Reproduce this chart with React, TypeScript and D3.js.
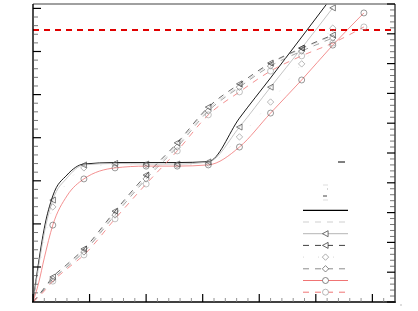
import React from "react";
import * as d3 from "d3";

// ---------- data ----------
const xValues = [0, 0.1, 0.2, 0.35, 0.6, 0.9, 1.45, 2.0, 2.55, 3.1, 3.65, 4.2, 4.75, 5.3, 5.85];
const markerX = [0.35, 0.9, 1.45, 2.0, 2.55, 3.1, 3.65, 4.2, 4.75, 5.3, 5.85];

// plateau family
const s1 = [0, 1.34, 2.48, 3.56, 4.26, 4.63, 4.68, 4.68, 4.68, 4.71, 6.17, 7.52, 8.89, 10.27, null];
const s3 = [0, 1.21, 2.32, 3.42, 4.16, 4.6, 4.65, 4.63, 4.63, 4.7, 5.87, 7.21, 8.52, 9.87, null];
const s5 = [0, 1.01, 2.08, 3.19, 3.99, 4.5, 4.61, 4.6, 4.6, 4.66, 5.54, 6.71, 7.99, 9.19, null];
const s7 = [0, 0.64, 1.48, 2.58, 3.56, 4.13, 4.5, 4.56, 4.56, 4.6, 5.2, 6.34, 7.45, 8.62, 9.7];
// linear family
const s2 = [0, 0.22, 0.44, 0.77, 1.2, 1.71, 2.99, 4.19, 5.27, 6.48, 7.25, 7.99, 8.49, 8.93, null];
const s4 = [0, 0.23, 0.47, 0.84, 1.26, 1.78, 3.05, 4.26, 5.34, 6.54, 7.32, 8.02, 8.52, 8.96, null];
const s6 = [0, 0.2, 0.42, 0.77, 1.17, 1.68, 2.92, 4.13, 5.2, 6.41, 7.21, 7.92, 8.42, 8.86, null];
const s8 = [0, 0.17, 0.37, 0.7, 1.11, 1.58, 2.79, 3.96, 5.07, 6.28, 7.05, 7.75, 8.26, 8.69, 9.23];

const refLevel = 9.13;

const xMajorTicks = [0, 1, 2, 3, 4, 5, 6];
const leftMajorTicks = [0, 1, 2, 3, 4, 5, 6];
const rightMajorTicks = [0, 1, 2, 3, 4, 5, 6, 7, 8, 9, 10];

// ---------- styles ----------
type Marker = "none" | "tri" | "dia" | "circ";
const series: {
  values: (number | null)[];
  color: string;
  width: number;
  dash: string;
  marker: Marker;
  markerColor: string;
}[] = [
  { values: s1, color: "#000000", width: 0.9, dash: "", marker: "none", markerColor: "#000" },
  { values: s2, color: "#cfcfcf", width: 0.8, dash: "6,6", marker: "none", markerColor: "#000" },
  { values: s3, color: "#b5b5b5", width: 0.8, dash: "", marker: "tri", markerColor: "#333" },
  { values: s4, color: "#404040", width: 0.8, dash: "6,6", marker: "tri", markerColor: "#222" },
  { values: s5, color: "#d8d8d8", width: 0.8, dash: "1,14", marker: "dia", markerColor: "#888" },
  { values: s6, color: "#8c8c8c", width: 0.8, dash: "6,6", marker: "dia", markerColor: "#555" },
  { values: s7, color: "#f07474", width: 0.8, dash: "", marker: "circ", markerColor: "#555" },
  { values: s8, color: "#f07474", width: 0.8, dash: "6,6", marker: "circ", markerColor: "#999" },
];

const L = 33, R = 395, T = 4, B = 302;

function markerPath(kind: Marker): string {
  if (kind === "tri") return "M-3,0L2.6,-3L2.6,3Z";
  if (kind === "dia") return "M0,-3.2L3.2,0L0,3.2L-3.2,0Z";
  if (kind === "circ") return d3.arc()({ innerRadius: 0, outerRadius: 3, startAngle: 0, endAngle: Math.PI * 2 }) as string;
  return "";
}

export default function App() {
  const x = d3.scaleLinear().domain([0, 6.4]).range([L, R]);
  const y = d3.scaleLinear().domain([0, 10]).range([B, T]);
  const yLeft = d3.scaleLinear().domain([-0.812, 6.102]).range([B, T]);

  const xMinor = d3.range(0, 6.41, 0.2).filter((v) => Math.abs(v - Math.round(v)) > 1e-6);
  const leftMinor = d3.range(-0.6, 6.1, 0.2).filter((v) => Math.abs(v - Math.round(v)) > 1e-6);
  const rightMinor = d3.range(0, 10, 0.2).filter((v) => Math.abs(v - Math.round(v)) > 1e-6);

  const line = d3
    .line<[number, number | null]>()
    .defined((d) => d[1] !== null)
    .x((d) => x(d[0]))
    .y((d) => y(d[1] as number))
    .curve(d3.curveMonotoneX);

  const legendX0 = 303, legendX1 = 348, legendY0 = 210.3, legendStep = 11.7;

  return (
    <div style={{ position: "fixed", left: 0, top: 0, width: 418, height: 311, background: "#fff" }}>
      <svg width={418} height={311} style={{ display: "block" }} fontFamily="DejaVu Sans">
        <defs>
          <clipPath id="plotClip">
            <rect x={L} y={T} width={R - L} height={B - T} />
          </clipPath>
        </defs>
        <rect x={0} y={0} width={418} height={311} fill="#fff" />

        {/* series lines */}
        <g clipPath="url(#plotClip)">
          {series.map((s, i) => (
            <path
              key={"l" + i}
              d={line(xValues.map((xv, j) => [xv, s.values[j]]) as [number, number | null][]) || ""}
              fill="none"
              stroke={s.color}
              strokeWidth={s.width}
              strokeDasharray={s.dash || undefined}
            />
          ))}
          {/* reference level */}
          <line x1={L} x2={R} y1={y(refLevel)} y2={y(refLevel)} stroke="#e00000" strokeWidth={2} strokeDasharray="6,5" />
          {/* markers */}
          {series.map((s, i) =>
            s.marker === "none"
              ? null
              : xValues.map((xv, j) => {
                  const v = s.values[j];
                  if (v === null || !markerX.includes(xv)) return null;
                  const py = y(v);
                  if (py < T - 3) return null;
                  return (
                    <path
                      key={"m" + i + "_" + j}
                      d={markerPath(s.marker)}
                      transform={`translate(${x(xv)},${py})`}
                      fill="none"
                      stroke={s.markerColor}
                      strokeWidth={0.6}
                    />
                  );
                })
          )}
        </g>

        {/* frame */}
        <line x1={L} x2={R} y1={T} y2={T} stroke="#808080" strokeWidth={1.5} />
        <line x1={L} x2={L} y1={T} y2={B} stroke="#000" strokeWidth={1.4} />
        <line x1={R} x2={R} y1={T} y2={B} stroke="#000" strokeWidth={1.1} />
        <line x1={L - 1} x2={R + 1} y1={B} y2={B} stroke="#000" strokeWidth={1.6} />

        {/* bottom ticks */}
        {xMajorTicks.map((t) => (
          <line key={"xt" + t} x1={x(t)} x2={x(t)} y1={B} y2={B - 8} stroke="#000" strokeWidth={1.2} />
        ))}
        {xMinor.map((t, i) => (
          <line key={"xm" + i} x1={x(t)} x2={x(t)} y1={B} y2={B - 4} stroke="#777" strokeWidth={0.8} />
        ))}

        {/* left ticks */}
        {leftMajorTicks.map((t) => (
          <line key={"lt" + t} x1={L} x2={L + 8} y1={yLeft(t)} y2={yLeft(t)} stroke="#000" strokeWidth={1.2} />
        ))}
        {leftMinor.map((t, i) => (
          <line key={"lm" + i} x1={L} x2={L + 5} y1={yLeft(t)} y2={yLeft(t)} stroke="#555" strokeWidth={0.8} />
        ))}

        {/* right ticks */}
        {rightMajorTicks.map((t) => (
          <line key={"rt" + t} x1={R} x2={R - 8} y1={y(t)} y2={y(t)} stroke="#000" strokeWidth={1.2} />
        ))}
        {rightMinor.map((t, i) => (
          <line key={"rm" + i} x1={R} x2={R - 5} y1={y(t)} y2={y(t)} stroke="#555" strokeWidth={0.8} />
        ))}

        {/* legend header remnants */}
        <line x1={338} x2={345} y1={162} y2={162} stroke="#000" strokeWidth={1} />
        <line x1={323} x2={328} y1={185} y2={185} stroke="#ddd" strokeWidth={1} />
        <line x1={327} x2={328} y1={189} y2={189} stroke="#aaa" strokeWidth={1} />
        <line x1={323} x2={327} y1={196} y2={196} stroke="#444" strokeWidth={1} />
        <line x1={323} x2={328} y1={200} y2={200} stroke="#ddd" strokeWidth={1} />

        {/* legend */}
        {series.map((s, i) => {
          const ly = legendY0 + i * legendStep;
          return (
            <g key={"lg" + i}>
              <line
                x1={legendX0}
                x2={legendX1}
                y1={ly}
                y2={ly}
                stroke={s.color}
                strokeWidth={i === 0 ? 1.3 : 1}
                strokeDasharray={s.dash || undefined}
              />
              {s.marker !== "none" && (
                <path
                  d={markerPath(s.marker)}
                  transform={`translate(${(legendX0 + legendX1) / 2},${ly})`}
                  fill="#fff"
                  stroke={s.markerColor}
                  strokeWidth={0.7}
                />
              )}
            </g>
          );
        })}
        <line x1={400} x2={402} y1={305} y2={305} stroke="#bbb" strokeWidth={1} />
      </svg>
    </div>
  );
}
